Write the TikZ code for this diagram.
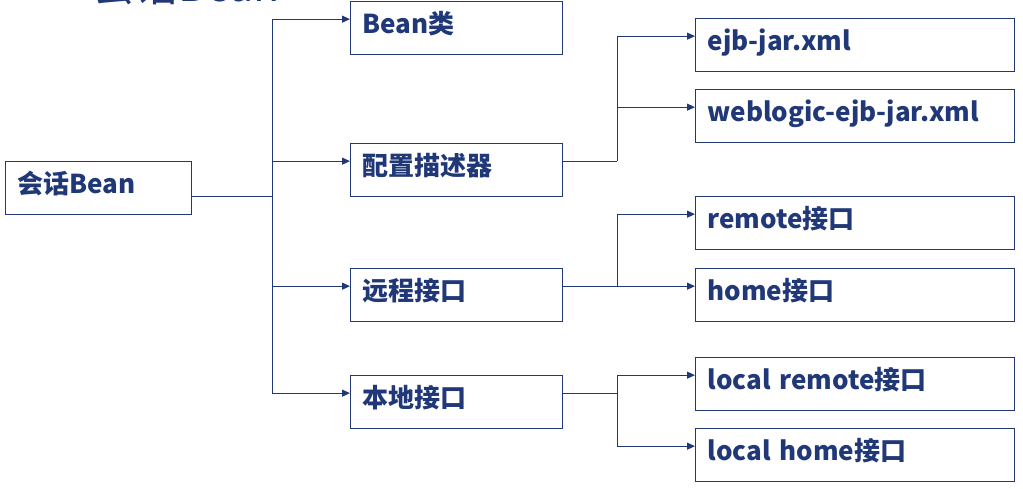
\documentclass[tikz,border=0pt]{standalone}
\usepackage{fontspec}
\setmainfont{Noto Sans CJK SC}
\usetikzlibrary{arrows.meta}
\definecolor{navy}{RGB}{32,56,120}
\begin{document}
\begin{tikzpicture}[x=1pt, y=-1pt, font=\fontsize{26}{30}\selectfont\bfseries, navy]
    \tikzstyle{box}=[draw=navy, line width=1.3pt, anchor=north west, align=left, inner xsep=12pt, inner ysep=0pt, text height=32pt, text depth=21pt]
    \tikzstyle{small box}=[box, text width=188pt]
    \tikzstyle{wide box}=[box, text width=295pt]
    \tikzstyle{link}=[draw=navy, line width=1pt]
    \tikzstyle{arrow}=[link, -{Triangle[length=8pt,width=7pt]}]
    \clip (0,0) rectangle (1023,489);
    \node[anchor=base west, inner sep=0pt, font=\fontsize{43}{43}\selectfont] (title) at (92,2) {会话Bean};
    \node[box, text width=162pt] (root) at (5,161) {会话Bean};
    \node[small box] (bean) at (350,1) {Bean类};
    \node[small box] (desc) at (350,143) {配置描述器};
    \node[small box] (remoteif) at (350,268) {远程接口};
    \node[small box] (localif) at (350,375) {本地接口};
    \node[wide box] (ejb) at (695,18) {ejb-jar.xml};
    \node[wide box] (weblogic) at (695,89) {weblogic-ejb-jar.xml};
    \node[wide box] (remote) at (695,196) {remote接口};
    \node[wide box] (home) at (695,268) {home接口};
    \node[wide box] (lremote) at (695,357) {local remote接口};
    \node[wide box] (lhome) at (695,428) {local home接口};
    \draw[link] ([yshift=-8.5pt]root.east) -- ++(80,0) coordinate (t1);
    \foreach \n in {bean,desc,remoteif,localif}
      \draw[arrow] (t1) |- ([yshift=9pt]\n.west);
    \draw[link] ([yshift=9pt]desc.east) -- ++(54,0) coordinate (t2);
    \foreach \n in {ejb,weblogic}
      \draw[arrow] (t2) |- ([yshift=9pt]\n.west);
    \draw[link] ([yshift=9pt]remoteif.east) -- ++(54,0) coordinate (t3);
    \foreach \n in {remote,home}
      \draw[arrow] (t3) |- ([yshift=9pt]\n.west);
    \draw[link] ([yshift=9pt]localif.east) -- ++(54,0) coordinate (t4);
    \foreach \n in {lremote,lhome}
      \draw[arrow] (t4) |- ([yshift=9pt]\n.west);
\end{tikzpicture}
\end{document}
